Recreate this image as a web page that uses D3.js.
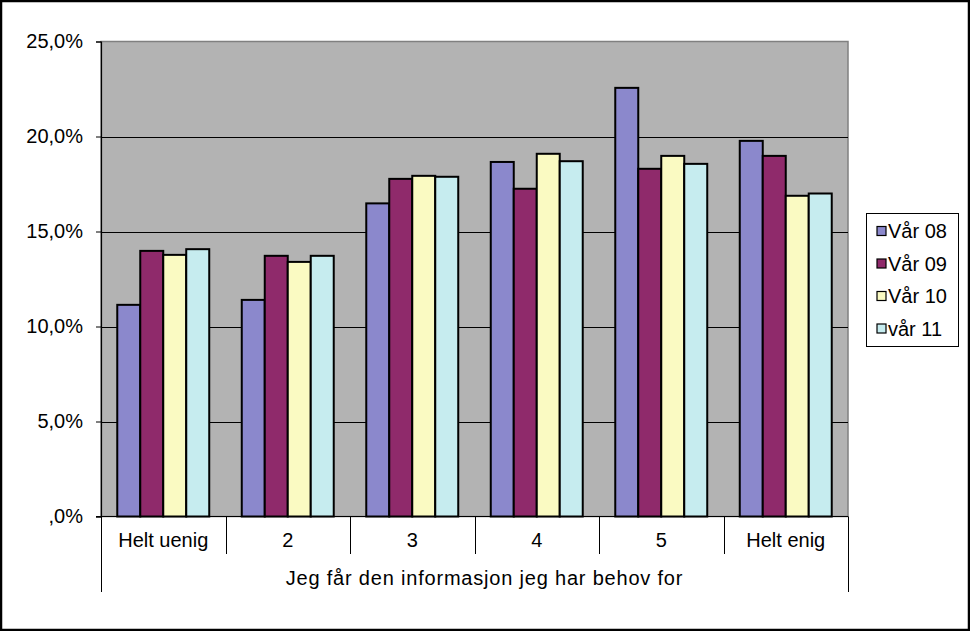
<!DOCTYPE html>
<html>
<head>
<meta charset="utf-8">
<script src="https://cdn.jsdelivr.net/npm/d3@7"></script>
<style>
html,body{margin:0;padding:0;background:#fff;}
svg{display:block;}
text{font-family:"Liberation Sans",Arial,sans-serif;fill:#000;}
</style>
</head>
<body>
<svg id="chart" width="970" height="631"></svg>
<script>
const categories = ["Helt uenig", "2", "3", "4", "5", "Helt enig"];
const seriesNames = ["Vår 08", "Vår 09", "Vår 10", "vår 11"];
const vaar08 = [11.14, 11.40, 16.48, 18.66, 22.56, 19.77];
const vaar09 = [13.98, 13.72, 17.77, 17.25, 18.30, 18.98];
const vaar10 = [13.77, 13.40, 17.93, 19.09, 18.98, 16.88];
const vaar11 = [14.07, 13.72, 17.88, 18.70, 18.56, 17.00];
const yTicks = [0, 5, 10, 15, 20, 25];
const yTickLabels = [",0%", "5,0%", "10,0%", "15,0%", "20,0%", "25,0%"];
const xTitle = "Jeg får den informasjon jeg har behov for";
const colors = ["#8b88cc", "#8f2a6b", "#fafac2", "#c6ecef"];

(function () {
const seriesValues = [vaar08, vaar09, vaar10, vaar11];
const svg = d3.select("#chart");

// outer border
svg.append("rect").attr("x", 1).attr("y", 1).attr("width", 968).attr("height", 629)
  .attr("fill", "#fff").attr("stroke", "#000").attr("stroke-width", 2.5);

const pL = 101, pR = 848, pT = 41.5, pB = 516.5;
const y = d3.scaleLinear().domain([0, 25]).range([pB, pT]);
const x0 = d3.scaleBand().domain(categories).range([pL, pR]).padding(0);
const x1 = d3.scaleBand().domain(seriesNames).range([0, x0.bandwidth()]).paddingInner(0).paddingOuter(0.707);

// plot area
svg.append("rect").attr("x", pL).attr("y", pT).attr("width", pR - pL).attr("height", pB - pT)
  .attr("fill", "#b3b3b3").attr("stroke", "#808080").attr("stroke-width", 1.5);

// gridlines
svg.append("g").selectAll("line").data(yTicks.filter(d => d > 0 && d < 25)).join("line")
  .attr("x1", pL).attr("x2", pR)
  .attr("y1", d => Math.round(y(d)) + 0.5).attr("y2", d => Math.round(y(d)) + 0.5)
  .attr("stroke", "#000").attr("stroke-width", 1);

// bars
const groups = svg.append("g").selectAll("g").data(categories).join("g")
  .attr("transform", d => `translate(${x0(d)},0)`);
groups.selectAll("rect").data((c, i) => seriesNames.map((s, j) => ({s, j, v: seriesValues[j][i]}))).join("rect")
  .attr("x", d => x1(d.s))
  .attr("width", x1.bandwidth())
  .attr("y", d => y(d.v))
  .attr("height", d => y(0) - y(d.v))
  .attr("fill", d => colors[d.j])
  .attr("stroke", "#000").attr("stroke-width", 2);

// y axis
const yAxis = d3.axisLeft(y).tickValues(yTicks).tickSize(5).tickPadding(13)
  .tickFormat((d, i) => yTickLabels[i]);
const ya = svg.append("g").attr("transform", `translate(${pL},0)`).call(yAxis);
ya.select(".domain").attr("stroke", "#000").attr("stroke-width", 1.2);
ya.selectAll(".tick line").attr("stroke", "#000");
ya.selectAll("text").attr("font-size", 20).attr("font-family", '"Liberation Sans",Arial,sans-serif').attr("fill", "#000");

// x axis baseline
svg.append("line").attr("x1", pL - 5).attr("x2", pR).attr("y1", pB).attr("y2", pB)
  .attr("stroke", "#000").attr("stroke-width", 1.2);

// category dividers
const bounds = categories.map(c => x0(c)).concat([pR]);
svg.append("g").selectAll("line").data(bounds).join("line")
  .attr("x1", d => Math.round(d) + 0.5).attr("x2", d => Math.round(d) + 0.5)
  .attr("y1", pB)
  .attr("y2", (d, i) => (i === 0 || i === bounds.length - 1) ? 592 : 554)
  .attr("stroke", "#000").attr("stroke-width", 1);

// category labels
svg.append("g").selectAll("text").data(categories).join("text")
  .attr("x", d => x0(d) + x0.bandwidth() / 2)
  .attr("y", 547)
  .attr("text-anchor", "middle")
  .attr("font-size", 20)
  .text(d => d);

// x title
svg.append("text").attr("x", (pL + pR) / 2 + 10).attr("y", 585)
  .attr("text-anchor", "middle").attr("font-size", 20).attr("letter-spacing", 0.8).text(xTitle);

// legend
const lg = svg.append("g");
lg.append("rect").attr("x", 866.5).attr("y", 213.5).attr("width", 92).attr("height", 133)
  .attr("fill", "#fff").attr("stroke", "#000").attr("stroke-width", 1);
const items = lg.selectAll("g").data(seriesNames).join("g")
  .attr("transform", (d, i) => `translate(0,${231 + i * 32.5})`);
items.append("rect").attr("x", 877).attr("y", -4.5).attr("width", 9).attr("height", 9)
  .attr("fill", (d, i) => colors[i]).attr("stroke", "#000").attr("stroke-width", 1.2);
items.append("text").attr("x", 888).attr("y", 7).attr("font-size", 20).text(d => d);
})();
</script>
</body>
</html>
